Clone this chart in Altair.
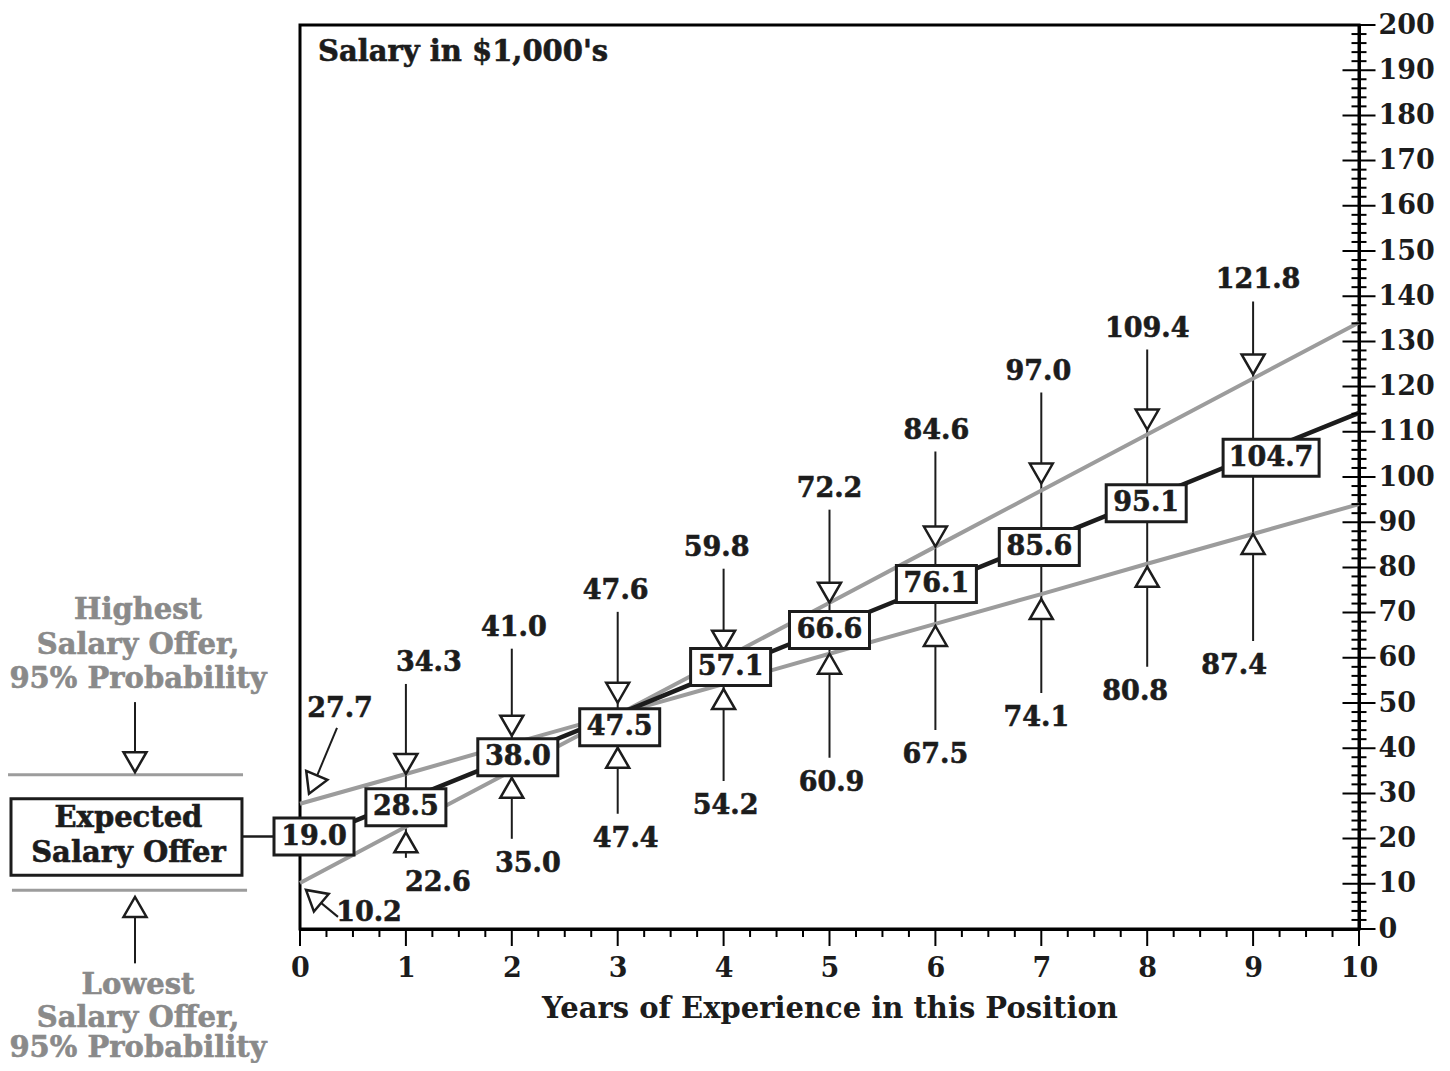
import altair as alt
import pandas as pd

# ---------------- data ----------------
years = [0, 1, 2, 3, 4, 5, 6, 7, 8, 9, 10]
expected = [19.0, 28.5, 38.0, 47.5, 57.1, 66.6, 76.1, 85.6, 95.1, 104.7, 114.2]
bound_flat = [27.7, 34.3, 41.0, 47.6, 54.2, 60.9, 67.5, 74.1, 80.8, 87.4, 94.0]
bound_steep = [10.2, 22.6, 35.0, 47.4, 59.8, 72.2, 84.6, 97.0, 109.4, 121.8, 134.2]
x_major = [0, 1, 2, 3, 4, 5, 6, 7, 8, 9, 10]
x_minor = [i / 4 for i in range(0, 41) if i % 4 != 0]
y_major = list(range(0, 201, 10))
y_minor = [v for v in range(0, 201, 2) if v % 10 != 0]

title_text = "Salary in $1,000's"
x_title = "Years of Experience in this Position"
high_lines = ["Highest", "Salary Offer,", "95% Probability"]
low_lines = ["Lowest", "Salary Offer,", "95% Probability"]
exp_lines = ["Expected", "Salary Offer"]

# ---------------- layout (pixel nudges of the hand placed labels) ----------------
W, H = 1059, 904
PXX = W / 10.0
PXY = H / 200.0
hi_dx = [23, 2, -2, -7, 0, 1, -3, 0, 5]
hi_dy = [-111, -116, -123, -111, -114, -116, -119, -106, -98]
lo_dx = [32, 16, 8, 2, 2, 0, -5, -12, -19]
lo_dy = [56, 93, 124, 122, 129, 131, 124, 128, 132]
hi_tip_dy = [0, -8, -11, -8, 0, 0, -7, -5, -4]
lo_tip_dy = [5.5, 7, 33, 5, 0, 2, 5, 3, 0]
box_dx = [14, 0, 6, 2, 7, 0, 1, -2, -1, 18]
box_dy = [-6.5, 7, 0, 13, -4, 2, -1, 5, 4, 2]

FONT = "DejaVu Serif"
INK = "#1c1c1c"
GRAY_TXT = "#8a8a8a"
GRAY_LINE = "#9c9c9c"
NUM_FS = 27
TXT_FS = 29

xs = alt.Scale(domain=[0, 10], nice=False, zero=False)
ys = alt.Scale(domain=[0, 200], nice=False, zero=False)

x_axis = alt.Axis(
    values=x_major, ticks=False, tickSize=0, grid=False,
    domainColor="black", domainWidth=3,
    labelFont=FONT, labelFontSize=NUM_FS, labelFontWeight="bold", labelColor=INK,
    labelPadding=26, labelFlush=False, labelOverlap=False, format="d",
    title=x_title, titleFont=FONT, titleFontSize=TXT_FS, titleFontWeight="bold",
    titleColor=INK, titlePadding=13,
)
y_axis = alt.Axis(
    orient="right", values=y_major, ticks=False, tickSize=0, grid=False,
    domainColor="black", domainWidth=3,
    labelFont=FONT, labelFontSize=NUM_FS, labelFontWeight="bold", labelColor=INK,
    labelPadding=19, labelFlush=False, labelOverlap=False, format="d", title=None,
)


def X(f):
    return alt.X(f"{f}:Q", scale=xs, axis=x_axis, title=x_title)


def Y(f):
    return alt.Y(f"{f}:Q", scale=ys, axis=y_axis)


high = [max(a, b) for a, b in zip(bound_flat, bound_steep)]
low = [min(a, b) for a, b in zip(bound_flat, bound_steep)]

rows = []
for i in range(1, 10):
    hly = high[i] - hi_dy[i - 1] / PXY
    lly = low[i] - lo_dy[i - 1] / PXY
    rows.append(dict(
        year=years[i], hi=high[i], lo=low[i],
        hi_tip=high[i] - hi_tip_dy[i - 1] / PXY,
        lo_tip=low[i] - lo_tip_dy[i - 1] / PXY,
        hi_lx=years[i] + hi_dx[i - 1] / PXX, hi_ly=hly,
        lo_lx=years[i] + lo_dx[i - 1] / PXX, lo_ly=lly,
        stem_top=hly - 21 / PXY, stem_bot=lly + 25 / PXY,
        hi_txt=f"{high[i]:.1f}", lo_txt=f"{low[i]:.1f}",
    ))
df_mid = pd.DataFrame(rows)

df_box = pd.DataFrame({
    "bx": [years[i] + box_dx[i] / PXX for i in range(10)],
    "by": [expected[i] - box_dy[i] / PXY for i in range(10)],
    "txt": [f"{expected[i]:.1f}" for i in range(10)],
})
df_box4 = df_box[df_box.txt.str.len() <= 4]
df_box5 = df_box[df_box.txt.str.len() > 4]

# x = 0 diagonal arrows (offsets in px from the data point)
v_hi0, v_lo0 = bound_flat[0], bound_steep[0]


def pt(v, dxp, dyp):
    return dxp / PXX, v - dyp / PXY


d0 = []
for v, lab, stem_a, stem_b, tip, kind in [
    (v_hi0, (40, -95), (37, -76), (17, -28), (9, -10), "up"),
    (v_lo0, (69, 30), (38, 34), (21, 20), (6, 7), "down"),
]:
    lx, ly = pt(v, *lab)
    ax1, ay1 = pt(v, *stem_a)
    ax2, ay2 = pt(v, *stem_b)
    tx, ty = pt(v, *tip)
    d0.append(dict(lx=lx, ly=ly, x1=ax1, y1=ay1, x2=ax2, y2=ay2, tx=tx, ty=ty, txt=f"{v:.1f}", kind=kind))
df0 = pd.DataFrame(d0)

df_lines = pd.DataFrame({
    "year": years * 2,
    "value": bound_flat + bound_steep,
    "series": ["flat"] * 11 + ["steep"] * 11,
})
df_exp = pd.DataFrame({"year": years, "value": expected})

# left hand annotation (data coordinates, left of the plot)
LX = -1.53
df_left_gray = pd.DataFrame({
    "x": [LX] * 6,
    "y": [70.6, 62.8, 55.3, -12.4, -19.6, -26.4],
    "txt": high_lines + low_lines,
})
df_left_black = pd.DataFrame({"x": [-1.62, -1.62], "y": [24.6, 16.8], "txt": exp_lines})
df_hl = pd.DataFrame({"x": [-2.757, -2.72], "x2": [-0.538, -0.50], "y": [34.1, 8.6]})
df_lstem = pd.DataFrame({"x": [-1.558, -1.558], "y": [50.2, 2.65], "y2": [39.1, -7.6]})
df_ltri_d = pd.DataFrame({"x": [-1.558], "y": [34.7]})
df_ltri_u = pd.DataFrame({"x": [-1.558], "y": [7.08]})
df_lbox = pd.DataFrame({"x": [-2.729], "x2": [-0.548], "y": [28.8], "y2": [11.9]})
df_conn = pd.DataFrame({"x": [-0.548], "x2": [df_box.bx[0]], "y": [df_box.by[0]]})
df_title = pd.DataFrame({"x": [0.17], "y": [194.0], "txt": [title_text]})

df_xt = pd.DataFrame({"x": x_major, "y": [0] * len(x_major)})
df_xm = pd.DataFrame({"x": x_minor, "y": [0] * len(x_minor)})
df_yt = pd.DataFrame({"x": [10] * len(y_major), "y": y_major})
df_ym = pd.DataFrame({"x": [10] * len(y_minor), "y": y_minor})

TRI_DOWN = "M-0.575,-1L0.575,-1L0,0Z"
TRI_UP = "M-0.575,1L0.575,1L0,0Z"
BOX4 = "M-1,-0.4625L1,-0.4625L1,0.4625L-1,0.4625Z"
BOX5 = "M-1,-0.3854L1,-0.3854L1,0.3854L-1,0.3854Z"

layers = []

# vertical stems
layers.append(alt.Chart(df_mid).mark_rule(color=INK, strokeWidth=2).encode(
    x=X("year"), y=Y("stem_top"), y2="stem_bot:Q"))
layers.append(alt.Chart(df0).mark_rule(color=INK, strokeWidth=2).encode(
    x=X("x1"), y=Y("y1"), x2="x2:Q", y2="y2:Q"))
layers.append(alt.Chart(df_lstem).mark_rule(color=INK, strokeWidth=2).encode(
    x=X("x"), y=Y("y"), y2="y2:Q"))
layers.append(alt.Chart(df_conn).mark_rule(color=INK, strokeWidth=2.5).encode(
    x=X("x"), x2="x2:Q", y=Y("y")))

# bound lines and expected line
layers.append(alt.Chart(df_lines).mark_line(color=GRAY_LINE, strokeWidth=4).encode(
    x=X("year"), y=Y("value"), detail="series:N"))
layers.append(alt.Chart(df_exp).mark_line(color=INK, strokeWidth=4.5).encode(
    x=X("year"), y=Y("value")))

# left legend lines and box
layers.append(alt.Chart(df_hl).mark_rule(color=GRAY_LINE, strokeWidth=3).encode(
    x=X("x"), x2="x2:Q", y=Y("y")))
layers.append(alt.Chart(df_lbox).mark_rect(fill="white", stroke=INK, strokeWidth=3).encode(
    x=X("x"), x2="x2:Q", y=Y("y"), y2="y2:Q"))

pt_style = dict(filled=True, fill="white", stroke=INK, opacity=1, fillOpacity=1)
# triangles
layers.append(alt.Chart(df_mid).mark_point(shape=TRI_DOWN, size=1600, strokeWidth=2.5, **pt_style).encode(
    x=X("year"), y=Y("hi_tip")))
layers.append(alt.Chart(df_mid).mark_point(shape=TRI_UP, size=1600, strokeWidth=2.5, **pt_style).encode(
    x=X("year"), y=Y("lo_tip")))
layers.append(alt.Chart(df0[df0.kind == "up"]).mark_point(shape=TRI_DOWN, size=1600, strokeWidth=2.5, angle=23, **pt_style).encode(
    x=X("tx"), y=Y("ty")))
layers.append(alt.Chart(df0[df0.kind == "down"]).mark_point(shape=TRI_UP, size=1600, strokeWidth=2.5, angle=310, **pt_style).encode(
    x=X("tx"), y=Y("ty")))
layers.append(alt.Chart(df_ltri_d).mark_point(shape=TRI_DOWN, size=1600, strokeWidth=2.5, **pt_style).encode(
    x=X("x"), y=Y("y")))
layers.append(alt.Chart(df_ltri_u).mark_point(shape=TRI_UP, size=1600, strokeWidth=2.5, **pt_style).encode(
    x=X("x"), y=Y("y")))

# boxes on the expected line
layers.append(alt.Chart(df_box4).mark_point(shape=BOX4, size=6400, strokeWidth=3, **pt_style).encode(
    x=X("bx"), y=Y("by")))
layers.append(alt.Chart(df_box5).mark_point(shape=BOX5, size=9216, strokeWidth=3, **pt_style).encode(
    x=X("bx"), y=Y("by")))

num_txt = dict(font=FONT, fontSize=NUM_FS, fontWeight="bold", color=INK, align="center",
               baseline="middle", stroke=INK, strokeWidth=0.6)
layers.append(alt.Chart(df_box).mark_text(**num_txt).encode(x=X("bx"), y=Y("by"), text="txt:N"))
layers.append(alt.Chart(df_mid).mark_text(**num_txt).encode(x=X("hi_lx"), y=Y("hi_ly"), text="hi_txt:N"))
layers.append(alt.Chart(df_mid).mark_text(**num_txt).encode(x=X("lo_lx"), y=Y("lo_ly"), text="lo_txt:N"))
layers.append(alt.Chart(df0).mark_text(**num_txt).encode(x=X("lx"), y=Y("ly"), text="txt:N"))

big_txt = dict(font=FONT, fontSize=TXT_FS, fontWeight="bold", align="center", baseline="middle",
               strokeWidth=0.6)
layers.append(alt.Chart(df_left_gray).mark_text(color=GRAY_TXT, stroke=GRAY_TXT, **big_txt).encode(
    x=X("x"), y=Y("y"), text="txt:N"))
layers.append(alt.Chart(df_left_black).mark_text(color=INK, stroke=INK, **big_txt).encode(
    x=X("x"), y=Y("y"), text="txt:N"))
layers.append(alt.Chart(df_title).mark_text(font=FONT, fontSize=TXT_FS, fontWeight="bold", color=INK,
                                            stroke=INK, strokeWidth=0.6,
                                            align="left", baseline="middle").encode(
    x=X("x"), y=Y("y"), text="txt:N"))

# axis ticks
layers.append(alt.Chart(df_xt).mark_tick(orient="vertical", size=17, thickness=2, yOffset=8.5,
                                         color="black", opacity=1).encode(x=X("x"), y=Y("y")))
layers.append(alt.Chart(df_xm).mark_tick(orient="vertical", size=8, thickness=2, yOffset=4,
                                         color="black", opacity=1).encode(x=X("x"), y=Y("y")))
layers.append(alt.Chart(df_yt).mark_tick(orient="horizontal", size=33, thickness=2,
                                         color="black", opacity=1).encode(x=X("x"), y=Y("y")))
layers.append(alt.Chart(df_ym).mark_tick(orient="horizontal", size=15, thickness=2,
                                         color="black", opacity=1).encode(x=X("x"), y=Y("y")))

chart = alt.layer(*layers).properties(
    width=W, height=H,
    autosize=alt.AutoSizeParams(type="none"),
    padding={"left": 292, "top": 17, "right": 83, "bottom": 134},
    background="white",
).configure_view(stroke="black", strokeWidth=3)

chart.save("out.html", embed_options={"renderer": "svg", "actions": False})
